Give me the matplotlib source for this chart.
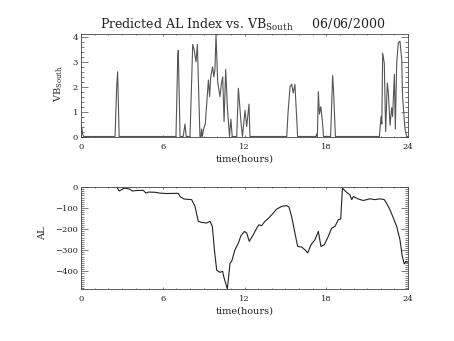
import matplotlib
matplotlib.use("Agg")
import matplotlib.pyplot as plt
from matplotlib.ticker import MultipleLocator

plt.rcParams["font.family"] = ["DejaVu Serif"]
plt.rcParams["mathtext.fontset"] = "dejavuserif"

# Southward IMF component (VB_south) through the day
vb_hours = [0.0, 0.05, 0.12, 0.2, 2.5, 2.62, 2.69, 2.8,
            6.97, 7.1, 7.14, 7.27, 7.5, 7.63, 7.72,
            8.0, 8.2, 8.3, 8.44, 8.54, 8.73, 8.8, 8.85, 8.9,
            9.0, 9.12, 9.35, 9.44, 9.52, 9.66, 9.75, 9.83, 9.91,
            10.03, 10.2, 10.3, 10.4, 10.5, 10.62, 10.74, 10.9, 11.0, 11.1,
            11.43, 11.55, 11.74, 11.85, 12.04, 12.16, 12.33, 12.4,
            15.1, 15.2, 15.34, 15.46, 15.58, 15.7, 15.9,
            17.25, 17.3, 17.35, 17.42, 17.5, 17.6, 17.72, 17.8,
            18.32, 18.47, 18.53, 18.67,
            21.9, 22.02, 22.08, 22.14, 22.26, 22.36, 22.48, 22.56, 22.68, 22.8,
            22.87, 23.0, 23.07, 23.17, 23.29, 23.41, 23.54, 23.6, 23.78, 23.9, 24.0]
vb_south = [0.0, 0.38, 0.1, 0.0, 0.0, 2.0, 2.6, 0.0,
            0.0, 3.2, 3.46, 0.0, 0.0, 0.5, 0.0,
            0.0, 3.7, 3.5, 3.0, 3.7, 0.0, 0.0, 0.3, 0.0,
            0.3, 0.5, 2.27, 1.6, 2.4, 2.8, 2.4, 2.7, 4.1,
            2.2, 1.6, 2.1, 2.4, 0.6, 2.7, 1.2, 0.0, 0.7, 0.0,
            0.0, 1.94, 0.6, 0.0, 1.05, 0.4, 1.3, 0.0,
            0.0, 1.0, 2.0, 2.1, 1.75, 2.1, 0.0,
            0.0, 0.1, 0.0, 1.8, 0.9, 1.2, 0.6, 0.0,
            0.0, 2.45, 1.9, 0.0,
            0.0, 0.8, 0.5, 3.35, 2.95, 0.2, 2.15, 1.75, 0.45, 1.15,
            0.8, 2.5, 0.3, 2.95, 3.76, 3.83, 3.1, 1.6, 0.3, 0.0, 0.0]

# Predicted AL index through the day
al_hours = [2.62, 2.81, 3.06, 3.2, 3.57, 3.77, 4.18, 4.57, 4.77, 4.94, 5.43,
            5.8, 6.29, 7.14, 7.27, 7.56, 8.12, 8.37, 8.61, 8.86, 9.22, 9.47,
            9.64, 9.79, 9.96, 10.2, 10.4, 10.47, 10.74, 10.94, 11.06, 11.3,
            11.55, 11.74, 11.99, 12.16, 12.35, 12.65, 12.9, 13.06, 13.25, 13.5,
            13.7, 14.0, 14.36, 14.73, 15.1, 15.27, 15.46, 15.7, 15.9, 16.2,
            16.44, 16.64, 16.88, 17.17, 17.42, 17.61, 17.86, 18.15, 18.4, 18.64,
            18.89, 19.06, 19.19, 19.26, 19.5, 19.74, 19.87, 19.99, 20.35, 20.72,
            21.21, 21.58, 21.94, 22.26, 22.44, 22.68, 22.88, 23.17, 23.41, 23.58,
            23.73, 23.85, 23.95]
al_index = [0, -19, -10, -5, -10, -19, -16, -16, -29, -24, -25,
            -29, -31, -30, -45, -57, -60, -92, -163, -168, -171, -163,
            -187, -298, -395, -405, -400, -424, -484, -361, -353, -298,
            -266, -231, -211, -218, -258, -226, -195, -179, -184, -163,
            -152, -132, -105, -92, -88, -96, -140, -218, -282, -285,
            -298, -313, -274, -250, -211, -282, -274, -234, -195, -187,
            -155, -152, -5, -10, -26, -37, -60, -45, -57, -64,
            -56, -60, -56, -60, -79, -108, -140, -187, -250, -329,
            -365, -353, -357]

hour_ticks = [0, 6, 12, 18, 24]

fig = plt.figure(figsize=(4.54, 3.41), dpi=100)
fig.patch.set_facecolor("white")

W, H = 454.0, 341.0
ax1 = fig.add_axes([81 / W, 1 - 136.5 / H, 327 / W, 102 / H])
ax2 = fig.add_axes([81 / W, 1 - 289 / H, 327 / W, 102 / H])

ax1.plot(vb_hours, vb_south, color="#555555", lw=0.8)
ax2.plot(al_hours, al_index, color="#222222", lw=0.8)

ax1.set_ylim(0, max(vb_south))
ax2.set_ylim(min(al_index), 0)
ax1.yaxis.set_major_locator(MultipleLocator(1))
ax1.yaxis.set_minor_locator(MultipleLocator(0.2))
ax2.yaxis.set_major_locator(MultipleLocator(100))
ax2.yaxis.set_minor_locator(MultipleLocator(10))

for ax in (ax1, ax2):
    ax.set_xlim(0, 24)
    ax.set_xticks(hour_ticks)
    ax.xaxis.set_minor_locator(MultipleLocator(1))
    ax.tick_params(axis="both", which="both", direction="in",
                   top=True, right=True, width=0.5, color="#444444",
                   labelsize=6, labelcolor="#222222")
    ax.tick_params(axis="x", which="major", length=1.5, pad=4.5)
    ax.tick_params(axis="x", which="minor", length=0.75)
    ax.tick_params(axis="y", which="major", length=4.7, pad=2)
    ax.tick_params(axis="y", which="minor", length=2.4)
    for sp in ax.spines.values():
        sp.set_linewidth(0.6)
        sp.set_color("#444444")
    ax.set_xlabel("time(hours)", fontsize=7, color="#222222", labelpad=2.5)

fig.text(243 / W, 1 - 29 / H,
         r"Predicted AL Index vs. VB$_{\mathrm{South}}$     06/06/2000",
         ha="center", va="baseline", fontsize=9, color="#222222")
fig.text(59 / W, 1 - 84 / H, r"VB$_{\mathrm{South}}$", rotation=90,
         ha="center", va="center", fontsize=7, color="#222222")
fig.text(43 / W, 1 - 233 / H, "AL", rotation=90,
         ha="center", va="center", fontsize=7, color="#222222")

fig.savefig("out.png", dpi=100, facecolor="white")
